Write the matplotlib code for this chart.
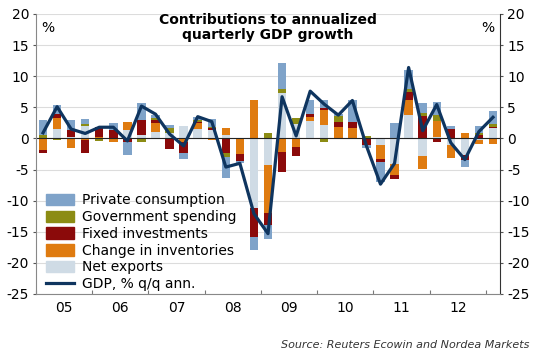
import numpy as np
import matplotlib.pyplot as plt
from matplotlib.patches import Patch
from matplotlib.lines import Line2D

plt.rcParams['axes.unicode_minus'] = False

# Quarters 2005Q1 - 2013Q1
years = ['05', '06', '07', '08', '09', '10', '11', '12']

private_consumption = [2.3, 1.55, 1.6, 0.8, 0.0, 1.1, -2.1, 2.8, 0.4, 0.55, -0.95, 0.5, 1.2,
                       -3.45, -0.45, -2.2, -2.3, 4.2, 0.0, 2.3, 1.35, 0.2, 3.45, -0.4, -3.2,
                       2.4, 3.1, 1.7, 2.0, 0.55, -1.05, 1.1, 2.15]
government = [0.6, -0.3, 0.1, 0.25, -0.35, 0.0, 0.0, -0.5, 0.4, 0.7, 0.0, 0.2, 0.1,
              -0.65, 0.0, 0.0, 0.8, 0.6, 1.0, 0.0, -0.5, 1.0, 0.0, 0.35, 0.0,
              0.1, 0.4, 0.45, 1.05, 0.0, 0.0, 0.35, 0.4]
fixed_investment = [-0.4, 0.6, 1.0, -2.15, 1.6, 1.2, -0.55, 2.4, 0.4, -1.7, -1.75, 0.25, 0.4,
                    -2.3, -1.0, -4.55, -1.95, -3.3, -1.5, 0.37, 0.3, 0.85, 1.0, -1.0, -0.45,
                    -0.55, 1.35, 3.6, -0.55, 1.5, -0.9, 0.5, 0.25]
inventories = [-1.9, 1.8, -1.5, -0.27, 0.2, -0.6, 1.25, 0.0, 1.45, 0.0, -0.65, 1.0, -0.3,
               1.1, -2.4, 6.2, -7.65, -2.1, -1.35, 0.65, 2.4, 1.65, 1.55, -0.1, -2.25,
               -1.8, 2.4, -2.0, 2.55, -2.0, 0.95, -0.7, -0.9]
net_exports = [0.0, 1.5, 0.3, 2.0, 0.1, 0.1, 1.35, 0.5, 1.1, 0.9, 2.0, 1.45, 1.35,
               0.5, -0.15, -11.25, -4.3, 7.3, 2.3, 2.85, 2.15, 0.15, 0.15, 0.0, -1.05,
               -4.1, 3.75, -2.85, 0.2, -1.07, -2.6, -0.25, 1.6]
gdp = [0.9, 5.1, 1.5, 0.8, 1.8, 1.8, -0.4, 5.2, 3.9, 0.7, -1.2, 3.5, 2.7,
       -4.6, -4.0, -12.1, -15.3, 6.7, 0.4, 7.6, 5.5, 3.75, 6.1, -1.2, -7.35,
       -4.0, 11.4, 1.25, 5.45, -0.7, -3.4, 1.1, 3.4]

# stacking order from the zero line outwards
series = [
    (net_exports, '#cfdbe5', 'Net exports'),
    (inventories, '#df7b10', 'Change in inventories'),
    (fixed_investment, '#8b0a0a', 'Fixed investments'),
    (government, '#8c8c14', 'Government spending'),
    (private_consumption, '#7fa3c9', 'Private consumption'),
]

x = np.arange(len(gdp))
fig = plt.figure(figsize=(5.35, 3.54), dpi=100)
ax = fig.add_axes([0.0673, 0.1695, 0.8673, 0.791])

pos = np.zeros(len(x))
neg = np.zeros(len(x))
for vals, col, lab in series:
    v = np.array(vals)
    bottom = np.where(v >= 0, pos, neg)
    ax.bar(x, v, 0.6, bottom=bottom, color=col, zorder=2)
    pos = pos + np.clip(v, 0, None)
    neg = neg + np.clip(v, None, 0)

ax.plot(x, gdp, color='#0f355f', lw=2.3, zorder=3)
ax.axhline(0, color='#222222', lw=0.8, zorder=2.5)

ax.set_xlim(-0.5, len(x) - 0.5)
ax.set_ylim(-25, 20)
ax.set_yticks(range(-25, 21, 5))
ax.grid(axis='y', color='#dcdcdc', lw=0.8, zorder=0)
ax.tick_params(axis='y', which='both', left=True, right=True, labelleft=True,
               labelright=True, labelsize=10, length=2, color='#555555', pad=3)

# year boundaries as ticks, labels in the middle of each year
ax.set_xticks(np.arange(-0.5, 32, 4))
ax.set_xticklabels([])
ax.set_xticks(np.arange(1.5, 32, 4), minor=True)
ax.set_xticklabels(years, minor=True, fontsize=10)
ax.tick_params(axis='x', which='major', length=3, direction='in', color='#777777')
ax.tick_params(axis='x', which='minor', length=0, pad=5)

ax.spines['top'].set_visible(False)
ax.spines['left'].set_color('#888888')
ax.spines['right'].set_color('#333333')
ax.spines['bottom'].set_color('#888888')

ax.text(0.012, 0.975, '%', transform=ax.transAxes, fontsize=10, va='top')
ax.text(0.988, 0.975, '%', transform=ax.transAxes, fontsize=10, va='top', ha='right')
ax.text(0.5, 1.005, 'Contributions to annualized\nquarterly GDP growth', transform=ax.transAxes,
        ha='center', va='top', fontsize=10, fontweight='bold', linespacing=1.1)

handles = [Patch(color=c, label=l) for v, c, l in series[::-1]]
handles.append(Line2D([], [], color='#0f355f', lw=2.3, label='GDP, % q/q ann.'))
ax.legend(handles=handles, loc='lower left', bbox_to_anchor=(0.0, -0.025), frameon=False,
          fontsize=10, handlelength=2.0, handleheight=0.9, labelspacing=0.2,
          handletextpad=0.6, borderaxespad=0.3)

fig.text(0.99, 0.012, 'Source: Reuters Ecowin and Nordea Markets', ha='right', va='bottom',
         fontsize=8, style='italic', color='#333333')

plt.savefig('out.png', dpi=100)
